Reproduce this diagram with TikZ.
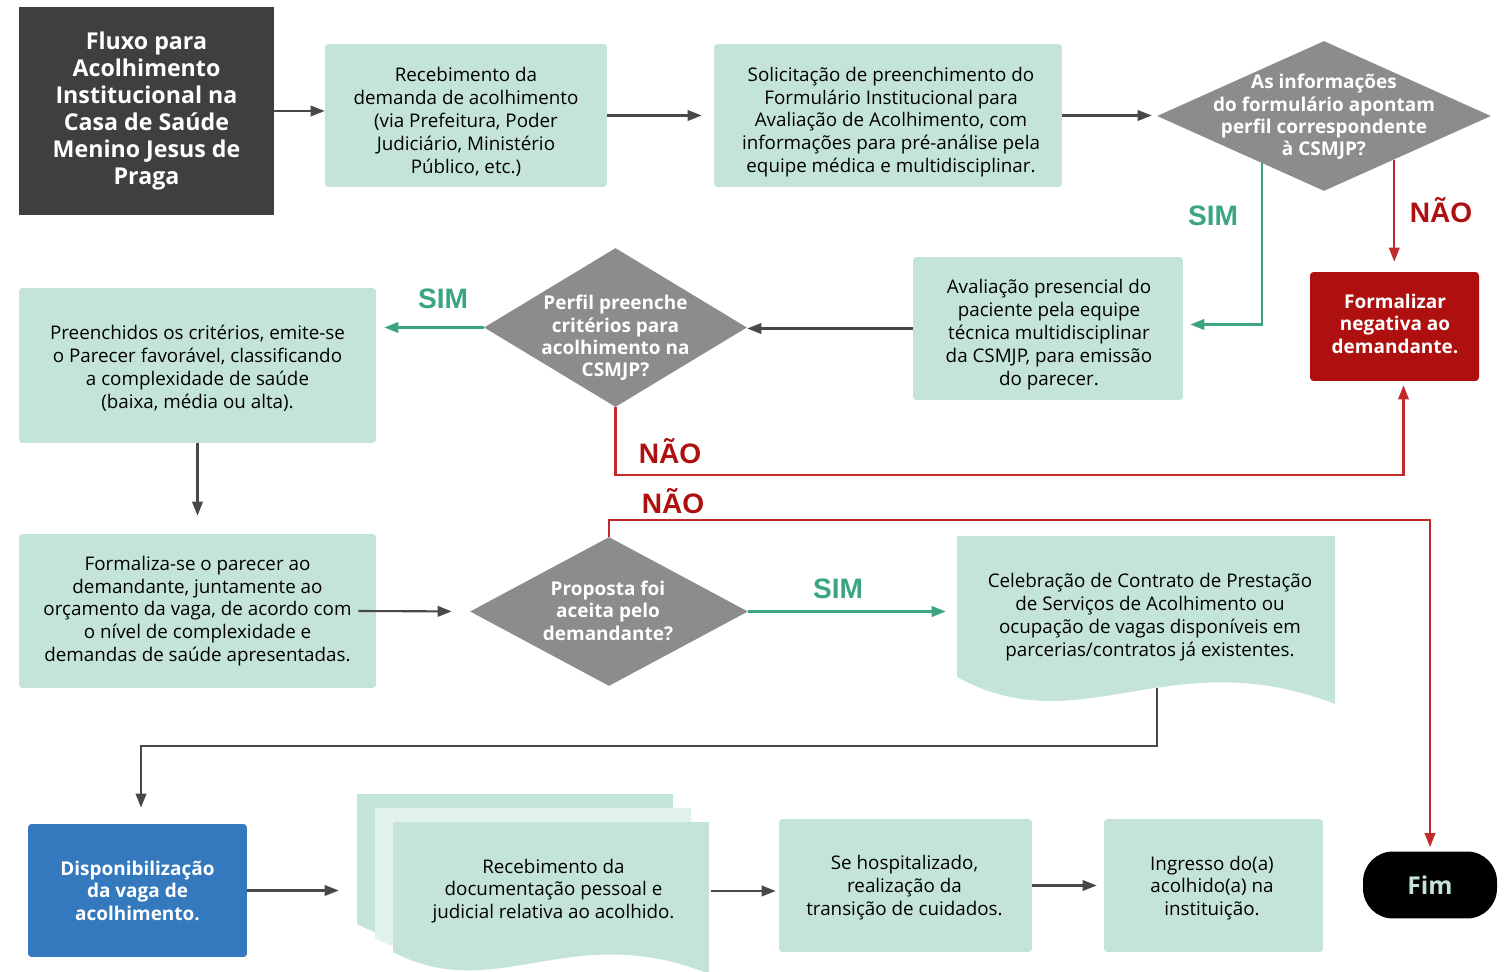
\documentclass[tikz,border=0pt]{standalone}
\usepackage{fontspec}
\setmainfont{Open Sans}
\newfontfamily\labfont{Liberation Sans}
\usetikzlibrary{shapes.geometric,arrows.meta,calc}
\definecolor{boxgreen}{HTML}{C5E4D8}
\definecolor{palegreen}{HTML}{E0F2EB}
\definecolor{diagray}{HTML}{8C8C8C}
\definecolor{titlegray}{HTML}{3F3F41}
\definecolor{negred}{HTML}{AE1010}
\definecolor{linered}{HTML}{C02A2A}
\definecolor{simgreen}{HTML}{3AA57E}
\definecolor{dispblue}{HTML}{3479BD}
\definecolor{linegray}{HTML}{484848}
\begin{document}
\begin{tikzpicture}[x=0.02cm, y=-0.02cm, >={Triangle[length=8pt,width=6pt]},
    txt/.style={align=center, font=\fontsize{10.7}{13}\selectfont, inner sep=0pt},
    box/.style={txt, fill=boxgreen, rounded corners=2pt},
    boldbox/.style={align=center, text=white, rounded corners=2pt, font=\fontsize{10.8}{12.8}\selectfont\bfseries},
    dia/.style={diamond, fill=diagray, inner sep=0pt},
    diatext/.style={text=white, align=center, font=\fontsize{10.8}{12.8}\selectfont\bfseries},
    seta/.style={->, draw=linegray, line width=1.2pt},
    simline/.style={->, draw=simgreen, line width=1.3pt},
    naoline/.style={->, draw=linered, line width=1.2pt},
    simlab/.style={text=simgreen, font=\labfont\fontsize{16}{16}\selectfont\bfseries},
    naolab/.style={text=negred, font=\labfont\fontsize{16}{16}\selectfont\bfseries}]
\useasboundingbox (0,0) rectangle (1504,972);

\node[fill=titlegray, minimum width=5.10cm, minimum height=4.16cm, text=white, align=center,
      font=\fontsize{13.2}{15.3}\selectfont\bfseries] (title) at (146.5,111)
      {Fluxo para\\Acolhimento\\Institucional na\\Casa de Saúde\\Menino Jesus de\\Praga};
\node[box, minimum width=5.64cm, minimum height=2.86cm] (rec) at (466,115.5) {};
\node[txt] (recT) at (466,122)
      {Recebimento da\\demanda de acolhimento\\(via Prefeitura, Poder\\Judiciário, Ministério\\Público, etc.)};
\node[box, minimum width=6.96cm, minimum height=2.86cm] (sol) at (888,115.5) {};
\node[txt] (solT) at (891,122)
      {Solicitação de preenchimento do\\Formulário Institucional para\\Avaliação de Acolhimento, com\\informações para pré-análise pela\\equipe médica e multidisciplinar.};
\node[dia, minimum width=6.68cm, minimum height=3cm] (d1) at (1324,116) {};
\node[diatext] (d1t) at (1324,117) {As informações\\do formulário apontam\\perfil correspondente\\à CSMJP?};
\node[box, minimum width=5.4cm, minimum height=2.86cm] (aval) at (1048,328.5) {};
\node[txt] (avalT) at (1049,334.5)
      {Avaliação presencial do\\paciente pela equipe\\técnica multidisciplinar\\da CSMJP, para emissão\\do parecer.};
\node[boldbox, fill=negred, minimum width=3.38cm, minimum height=2.18cm] (neg) at (1394.5,326.5) {};
\node[boldbox] (negT) at (1395,323.5) {Formalizar\\negativa ao\\demandante.};
\node[dia, minimum width=5.26cm, minimum height=3.18cm] (d2) at (615.5,327.5) {};
\node[diatext] (d2t) at (615.5,338) {Perfil preenche\\critérios para\\acolhimento na\\CSMJP?};
\node[box, minimum width=7.14cm, minimum height=3.10cm] (pre) at (197.5,365.5) {};
\node[txt] (preT) at (197.5,368.5)
      {Preenchidos os critérios, emite-se\\o Parecer favorável, classificando\\a complexidade de saúde\\(baixa, média ou alta).};
\node[box, minimum width=7.14cm, minimum height=3.08cm] (fm) at (197.5,611)
      {Formaliza-se o parecer ao\\demandante, juntamente ao\\orçamento da vaga, de acordo com\\o nível de complexidade e\\demandas de saúde apresentadas.};
\node[dia, minimum width=5.56cm, minimum height=2.98cm] (d3) at (609,611.5) {};
\node[diatext] (d3t) at (608,610.5) {Proposta foi\\aceita pelo\\demandante?};

% documento
\fill[boxgreen] (957,536) -- (1335,536) -- (1335,704) .. controls (1170,640) and (1080,745) .. (957,677) -- cycle;
\node[txt, minimum width=7.56cm] (cel) at (1150,617)
      {Celebração de Contrato de Prestação\\de Serviços de Acolhimento ou\\ocupação de vagas disponíveis em\\parcerias/contratos já existentes.};
\coordinate (celb) at (1157,688);

\node[boldbox, fill=dispblue, minimum width=4.38cm, minimum height=2.66cm] (disp) at (137.5,890.5)
      {Disponibilização\\da vaga de\\acolhimento.};
% varios documentos
\foreach \dx/\dy/\cor in {0/0/boxgreen, 18/14/palegreen, 36/28/boxgreen}
{
    \fill[\cor, shift={(357+\dx,794+\dy)}] (0,0) -- (316,0) -- (316,152) .. controls (178,96) and (103,184) .. (0,130) -- cycle;
}
\node[txt, minimum width=6.3cm] (docs) at (553.5,891)
      {Recebimento da\\documentação pessoal e\\judicial relativa ao acolhido.};
\node[box, minimum width=5.06cm, minimum height=2.66cm] (hosp) at (905.5,885.5) {};
\node[txt] (hospT) at (904.5,887.5) {Se hospitalizado,\\realização da\\transição de cuidados.};
\node[box, minimum width=4.38cm, minimum height=2.66cm] (ing) at (1213.5,885.5) {};
\node[txt] (ingT) at (1212,888) {Ingresso do(a)\\acolhido(a) na\\instituição.};
\node[fill=black, rounded corners=0.6cm, minimum width=2.68cm, minimum height=1.34cm, text=boxgreen,
      font=\fontsize{14}{14}\selectfont\bfseries] (fim) at (1430,885) {Fim};

% ligacoes
\draw[seta] (title.east) -- (title.east -| rec.west);
\draw[seta, shorten >=0.24cm] (rec) -- (sol);
\draw[seta, shorten >=0.1cm] (sol.east) -- (sol.east -| d1.west);
\draw[simline, shorten >=0.14cm] ($(d1.south)!0.37!(d1.west)$) |- ($(aval.east)+(0,-4)$);
\node[simlab] (sim1) at (1213,216) {SIM};
\coordinate (d1r) at ($(d1.south)!0.42!(d1.east)$);
\draw[naoline, shorten >=0.2cm] (d1r) -- (d1r |- neg.north);
\node[naolab] (nao1) at (1441,210) {NÃO};
\draw[seta] (aval.west) -- (aval.west -| d2.east);
\draw[simline, shorten >=0.16cm] (d2.west) -- (d2.west -| pre.east);
\node[simlab] (sim2) at (443,299) {SIM};
\draw[naoline, shorten >=0.08cm] (d2.south) |- ($(neg.south)+(9,94)$) -- ($(neg.south)+(9,0)$);
\node[naolab] (nao2) at (670,451) {NÃO};
\draw[seta, shorten >=0.36cm] (pre) -- (fm);
\draw[seta, shorten >=0.36cm] ($(fm.east)+(-18,0)$) -- (d3.west);
\draw[simline, shorten >=0.3cm] (d3.east) -- (d3.east -| cel.west);
\node[simlab] (sim3) at (838,589) {SIM};
\draw[naoline, shorten >=0.08cm] (d3.north) |- ($(fim.north)+(0,-331)$) -- (fim.north);
\node[naolab] (nao3) at (673,501) {NÃO};
\draw[seta, shorten >=0.32cm] (celb) |- ($(disp.north)+(3.5,-78)$) -- ($(disp.north)+(3.5,0)$);
\draw[seta, shorten >=1.14cm] (disp.east) -- (disp.east -| docs.west);
\draw[seta, shorten >=0.06cm] (docs.east) -- (docs.east -| hosp.west);
\draw[seta, shorten >=0.14cm] (hosp) -- (ing);
\end{tikzpicture}
\end{document}
